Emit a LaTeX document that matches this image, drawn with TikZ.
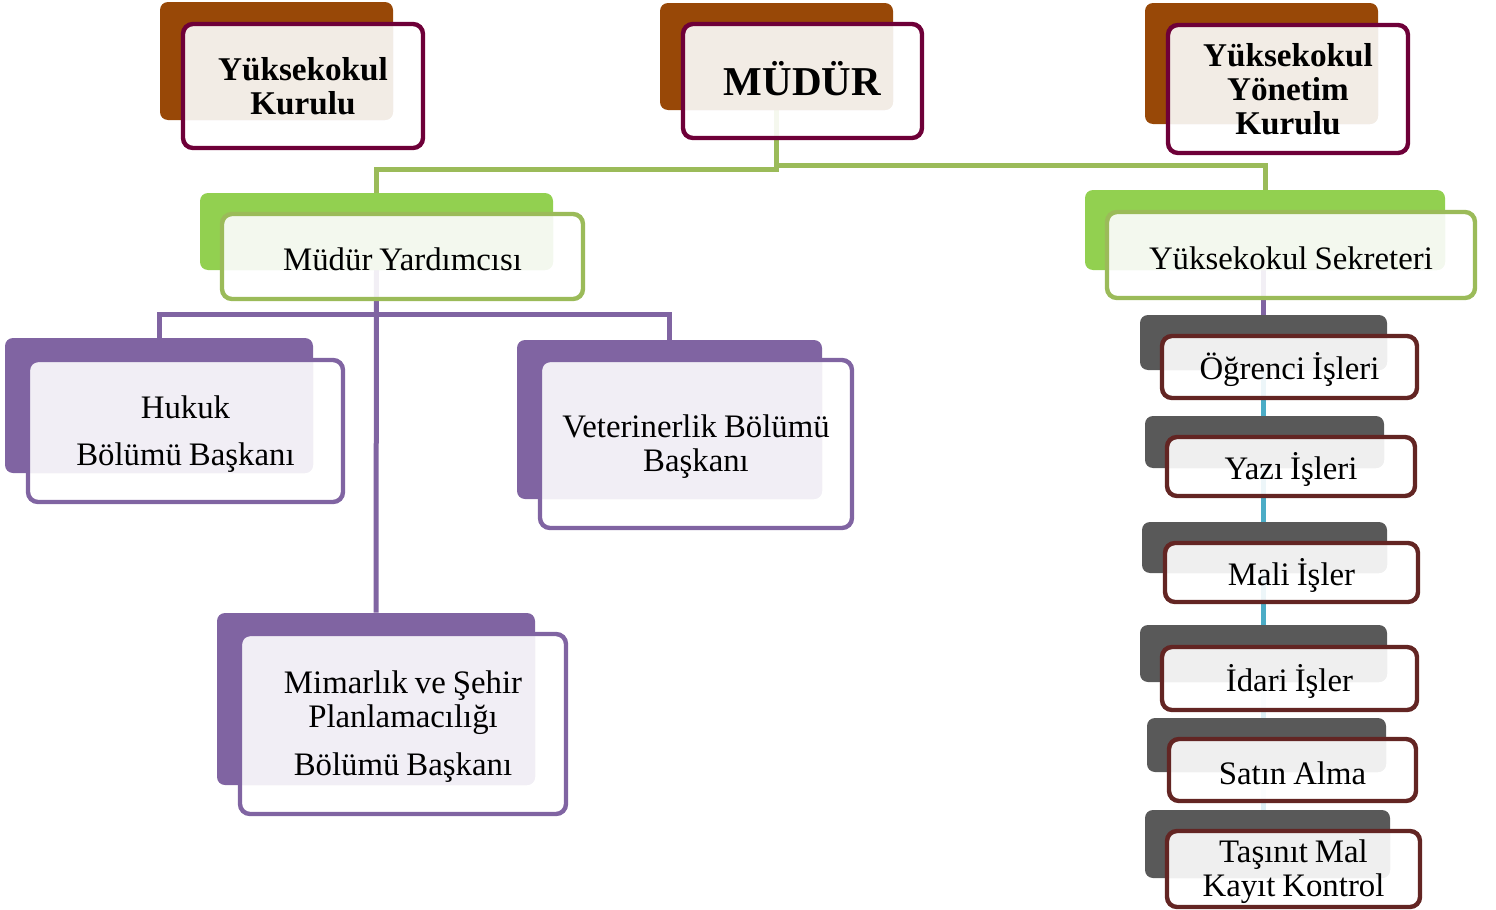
\documentclass[tikz,border=0pt]{standalone}
\usepackage{fontspec}
\setmainfont[WordSpace=0.85]{Liberation Serif}
\usetikzlibrary{fit,calc}
\pgfdeclarelayer{background}
\pgfsetlayers{background,main}
\definecolor{brback}{HTML}{984807}
\definecolor{brtint}{HTML}{F2ECE5}
\definecolor{brline}{HTML}{6E0038}
\definecolor{grback}{HTML}{92D050}
\definecolor{grtint}{HTML}{F3F8EE}
\definecolor{grline}{HTML}{9BBB59}
\definecolor{puback}{HTML}{8064A2}
\definecolor{putint}{HTML}{F1EEF5}
\definecolor{puline}{HTML}{8064A2}
\definecolor{gyback}{HTML}{595959}
\definecolor{gytint}{HTML}{EFEFEF}
\definecolor{gyline}{HTML}{632523}
\definecolor{cyanline}{HTML}{4BACC6}
\definecolor{paleline}{HTML}{DDEFF5}
\tikzset{
  boldtext/.style={font=\bfseries\fontsize{16.6}{17}\selectfont},
  regtext/.style={font=\fontsize{16.4}{17}\selectfont, yshift=-1.5pt},
  conn/.style={line width=2.5pt},
}
\newcommand\orgbox[8]{%
  \fill[#2back, rounded corners=4pt] (#3) rectangle (#4);
  \node[fit={(#3) (#4)}, inner sep=0pt] (#1B) {};
  \fill[white, fill opacity=0.9, rounded corners=5pt] (#5) rectangle (#6);
  \begin{scope}
    \clip[rounded corners=5pt] (#5) rectangle (#6);
    \fill[#2tint, rounded corners=4pt] (#3) rectangle (#4);
  \end{scope}
  \draw[#2line, line width=2.2pt, rounded corners=5pt] (#5) rectangle (#6);
  \node[inner sep=0pt, align=center, #7] (#1) at ($(#5)!0.5!(#6)$) {#8};
}
\begin{document}
\begin{tikzpicture}[x=0.5pt, y=-0.5pt]
\useasboundingbox (0,0) rectangle (1496,910);
% top row
\orgbox{kurulu}{br}{160,2}{393,120}{183,24}{423,148}{boldtext}{Yüksekokul\\Kurulu}
\orgbox{mudur}{br}{660,3}{893,110}{683,24}{922,138}{font=\bfseries\fontsize{20.5}{24}\selectfont, yshift=1pt}{MÜDÜR}
\orgbox{yonetim}{br}{1145,3}{1378,124}{1168,25}{1408,153}{boldtext}{Yüksekokul\\Yönetim\\Kurulu}
% second row
\orgbox{myard}{gr}{200,193}{553,270}{222,214}{583,299}{regtext}{Müdür Yardımcısı}
\orgbox{sek}{gr}{1085,190}{1445,270}{1107,212}{1475,298}{regtext}{Yüksekokul Sekreteri}
% departments
\orgbox{hukuk}{pu}{5,338}{313,473}{28,360}{343,502}{regtext}{Hukuk\\[6.5pt]Bölümü Başkanı}
\orgbox{vet}{pu}{517,340}{822,499}{540,360}{852,528}{regtext}{Veterinerlik Bölümü\\Başkanı}
\orgbox{mim}{pu}{217,613}{535,785}{240,634}{566,814}{regtext}{Mimarlık ve Şehir\\Planlamacılığı\\[7pt]Bölümü Başkanı}
% right column
\orgbox{ogr}{gy}{1140,315}{1387,370}{1162,336}{1417,398}{regtext}{Öğrenci İşleri}
\orgbox{yazi}{gy}{1145,416}{1384,468}{1167,437}{1415,496}{regtext}{Yazı İşleri}
\orgbox{mali}{gy}{1142,522}{1387,573}{1165,543}{1418,602}{regtext}{Mali İşler}
\orgbox{idari}{gy}{1140,625}{1387,682}{1162,647}{1417,710}{regtext}{İdari İşler}
\orgbox{satin}{gy}{1147,718}{1386,772}{1169,739}{1416,801}{regtext}{Satın Alma}
\orgbox{tas}{gy}{1145,810}{1390,878}{1167,831}{1420,907}{regtext}{Taşınıt Mal\\Kayıt Kontrol}
% connectors
\begin{pgfonlayer}{background}
\draw[conn, grline] (mudurB.south) -- ++(0,59) -| (myardB.north);
\draw[conn, grline] (mudurB.south) -- ++(0,55) -| (sekB.north);
\draw[conn, puline] (myardB.south) -- (mimB.north);
\draw[conn, puline] (myardB.south) -- ++(0,44) -| (hukukB.north);
\draw[conn, puline] (myardB.south) -- ++(0,44) -| (vetB.north);
\draw[conn, puline] (ogrB.north |- sekB.south) -- (ogrB.north);
\draw[conn, cyanline] (ogrB.south) -- (ogrB.south |- idariB.north);
\draw[conn, paleline] (idariB.south) -- (idariB.south |- tasB.north);
\end{pgfonlayer}
\end{tikzpicture}
\end{document}
